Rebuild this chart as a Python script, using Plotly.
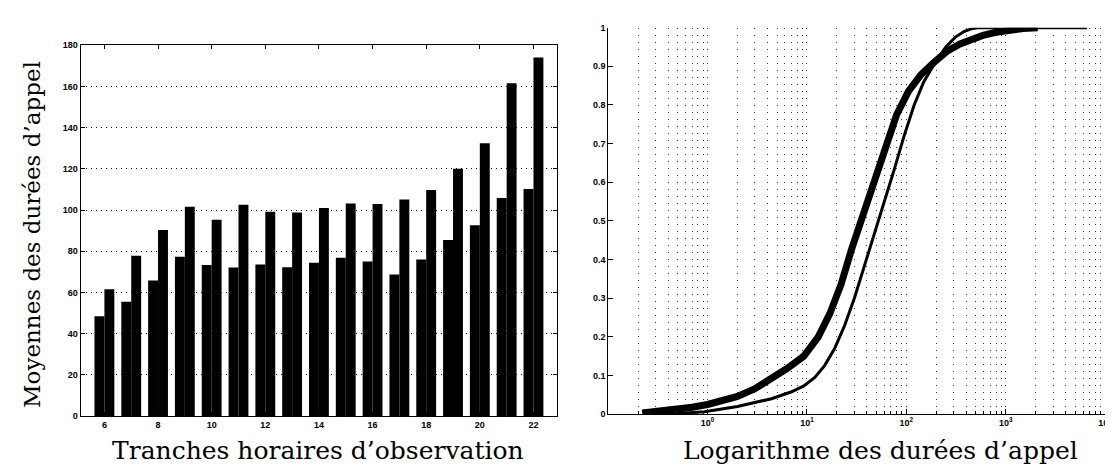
import plotly.graph_objects as go

# ---------------- data: left chart (mean call durations per hour slot) ----------------
hours = [6, 7, 8, 9, 10, 11, 12, 13, 14, 15, 16, 17, 18, 19, 20, 21, 22]
mean_a = [48.5, 55.5, 65.8, 77.4, 73.3, 72.2, 73.6, 72.3, 74.4, 76.9, 75.0, 68.7, 76.0, 85.5, 92.7, 105.9, 110.3]
mean_b = [61.6, 77.9, 90.4, 101.6, 95.3, 102.6, 99.2, 98.8, 101.0, 103.2, 103.0, 105.1, 109.7, 120.1, 132.5, 161.6, 174.1]
left_yticks = [0, 20, 40, 60, 80, 100, 120, 140, 160, 180]
left_xticks = [6, 8, 10, 12, 14, 16, 18, 20, 22]

# ---------------- data: right chart (empirical CDFs, log x) ----------------
band_x = [0.22, 0.3, 0.5, 0.7, 1.0, 1.5, 2.0, 3.0, 4.4, 6.3, 9.3, 13, 17, 22, 28, 36, 46, 60, 80,
          105, 140, 190, 260, 347, 450, 589, 800, 1100, 1500, 2100]
band_y = [0.003, 0.006, 0.012, 0.018, 0.025, 0.036, 0.046, 0.066, 0.092, 0.118, 0.15, 0.20, 0.26, 0.335,
          0.425, 0.51, 0.60, 0.69, 0.775, 0.835, 0.878, 0.91, 0.94, 0.958, 0.97, 0.98, 0.988, 0.995, 0.998, 1.0]
thin_x = [0.25, 0.5, 0.93, 2.0, 4.4, 7, 9.3, 12, 15, 19, 24, 30, 38, 47, 59, 75, 95, 120, 150, 195,
          250, 310, 380, 450, 520, 6600]
thin_y = [0.0, 0.002, 0.006, 0.02, 0.04, 0.058, 0.073, 0.095, 0.125, 0.17, 0.23, 0.30, 0.385, 0.46, 0.54,
          0.63, 0.72, 0.80, 0.86, 0.91, 0.95, 0.975, 0.99, 0.997, 1.0, 1.0]
right_yticks = [0, 0.1, 0.2, 0.3, 0.4, 0.5, 0.6, 0.7, 0.8, 0.9, 1]
right_yticktext = ["0", "0.1", "0.2", "0.3", "0.4", "0.5", "0.6", "0.7", "0.8", "0.9", "1"]
decades = [1, 10, 100, 1000, 10000]
decade_text = ["10<sup>0</sup>", "10<sup>1</sup>", "10<sup>2</sup>", "10<sup>3</sup>", "10<sup>4</sup>"]
minor_vals = [m * 10 ** k for k in range(-1, 4) for m in range(1, 10)] + [10000]

W, H = 1113, 464
tickfont = dict(family="Liberation Sans, Arial", size=9, color="black", weight="bold")
serif = "DejaVu Serif, serif"

fig = go.Figure()
fig.add_trace(go.Bar(x=hours, y=mean_a, marker=dict(color="black", line=dict(width=0)),
                     xaxis="x", yaxis="y", showlegend=False))
fig.add_trace(go.Bar(x=hours, y=mean_b, marker=dict(color="black", line=dict(width=0)),
                     xaxis="x", yaxis="y", showlegend=False))
fig.add_trace(go.Scatter(x=band_x, y=band_y, mode="lines", line=dict(color="black", width=7),
                         xaxis="x2", yaxis="y2", showlegend=False))
fig.add_trace(go.Scatter(x=thin_x, y=thin_y, mode="lines", line=dict(color="black", width=3),
                         xaxis="x2", yaxis="y2", showlegend=False))

fig.update_layout(
    width=W, height=H,
    margin=dict(l=0, r=0, t=0, b=0),
    paper_bgcolor="white", plot_bgcolor="white",
    barmode="group", bargap=0.26, bargroupgap=0.0,
    xaxis=dict(domain=[73 / W, 552 / W], range=[5.11, 22.86], tickvals=left_xticks,
               ticks="inside", ticklen=4, tickcolor="black", showline=True, linecolor="black", linewidth=1,
               mirror="ticks", showgrid=False, zeroline=False, tickfont=tickfont, anchor="y"),
    yaxis=dict(domain=[(H - 412) / H, (H - 33) / H], range=[0, 180], tickvals=left_yticks,
               ticks="inside", ticklen=4, tickcolor="black", showline=True, linecolor="black", linewidth=1,
               mirror="ticks", showgrid=True, gridcolor="black", gridwidth=1, griddash="1px,4px",
               zeroline=False, tickfont=tickfont, anchor="x"),
    xaxis2=dict(domain=[604 / W, 1104 / W], type="log", range=[-1, 4], tickvals=decades, ticktext=decade_text,
                ticks="inside", ticklen=5, tickcolor="black", showline=True, linecolor="black", linewidth=1,
                showgrid=False, zeroline=False, tickfont=tickfont, anchor="y2",
                minor=dict(tickvals=minor_vals, ticks="inside", ticklen=3, tickcolor="black",
                           showgrid=True, gridcolor="#333", gridwidth=1, griddash="1px,6px")),
    yaxis2=dict(domain=[(H - 410) / H, (H - 15) / H], range=[0, 1], tickvals=right_yticks, ticktext=right_yticktext,
                ticks="inside", ticklen=5, tickcolor="black", showline=True, linecolor="black", linewidth=1,
                showgrid=False, zeroline=False, tickfont=tickfont, anchor="x2"),
)

fig.add_annotation(text="Tranches horaires d\u2019observation", xref="paper", yref="paper",
                   x=312 / W, y=(H - 447) / H, xanchor="center", yanchor="middle", showarrow=False,
                   font=dict(family=serif, size=25, color="black"))
fig.add_annotation(text="Logarithme des durées d\u2019appel", xref="paper", yref="paper",
                   x=878 / W, y=(H - 447) / H, xanchor="center", yanchor="middle", showarrow=False,
                   font=dict(family=serif, size=25, color="black"))
fig.add_annotation(text="Moyennes des durées d\u2019appel", xref="paper", yref="paper",
                   x=24 / W, y=(H - 226) / H, xanchor="center", yanchor="middle", textangle=-90, showarrow=False,
                   font=dict(family=serif, size=23, color="black"))

fig.write_html("out.html")
